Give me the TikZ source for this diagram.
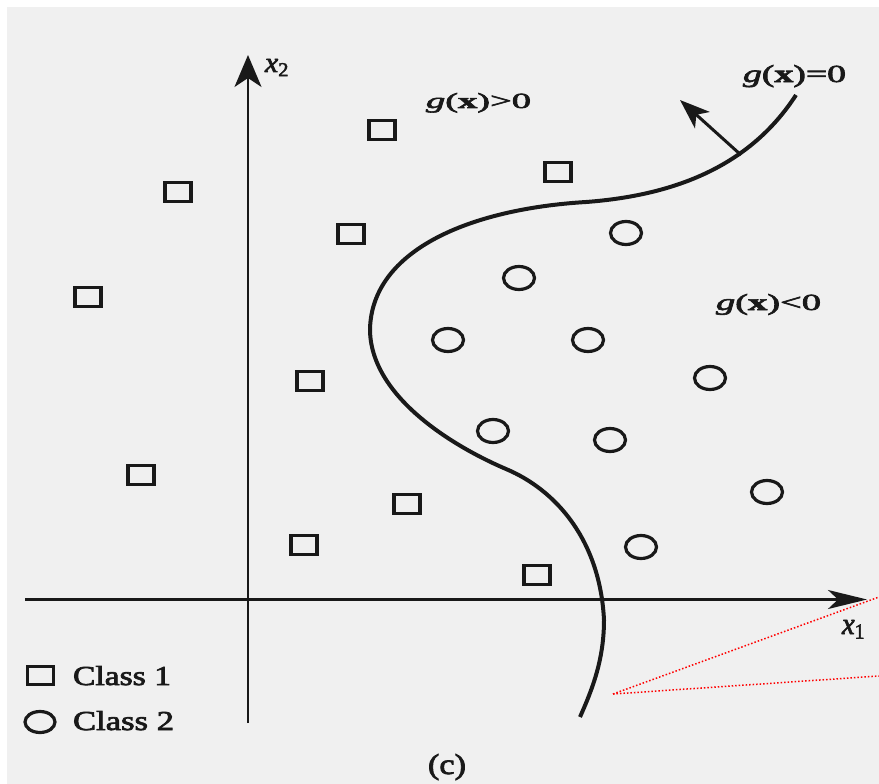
\documentclass[tikz,border=0pt]{standalone}
\usepackage{fontspec}
\setmainfont{Liberation Serif}
\newfontfamily\heavy{Liberation Serif}[FakeBold=2.5]
\usepackage{graphicx}
\usetikzlibrary{arrows.meta,shapes.geometric}
\definecolor{paper}{RGB}{240,240,240}
\definecolor{ink}{RGB}{25,25,25}
\newcommand{\fitbox}[3]{\resizebox{#1pt}{#2pt}{#3}}
\tikzset{
  sq/.style={draw=ink, line width=3.2pt, rectangle, minimum width=26pt, minimum height=19pt, inner sep=0pt},
  cl/.style={draw=ink, line width=3.2pt, ellipse, minimum width=31pt, minimum height=23pt, inner sep=0pt},
  lbl/.style={anchor=base west, inner sep=0pt, outer sep=0pt, text=ink, font=\heavy},
  axisline/.style={draw=ink, line width=2.5pt},
  boundary/.style={draw=ink, line width=4pt},
  reddots/.style={draw=red, line width=1.5pt, dash pattern=on 1.5pt off 2pt}
}
\begin{document}
\begin{tikzpicture}[x=1pt,y=-1pt]
\useasboundingbox (0,0) rectangle (879,784);
\fill[white] (0,0) rectangle (879,784);
\fill[paper] (7,7) rectangle (879,784);

% axes
\coordinate (yb) at (248,723);
\coordinate (yt) at (248,55);
\coordinate (xl) at (25,599.5);
\coordinate (xr) at (867,599.5);
\draw[axisline, -{Stealth[length=32pt,width=27pt,inset=9pt]}] (yb) -- (yt);
\draw[axisline, -{Stealth[length=39pt,width=19pt,inset=10pt]}] (xl) -- (xr);

% decision boundary
\draw[boundary] (796,95) .. controls (752,163) and (680,195) .. (586,202)
  .. controls (470,209) and (372,250) .. (370,329)
  .. controls (370,395) and (450,445) .. (506,469)
  .. controls (556,490) and (600,540) .. (604,620)
  .. controls (604,660) and (592,690) .. (580,717);

% normal arrow
\coordinate (nb) at (741,155);
\coordinate (nt) at (680,100);
\draw[draw=ink, line width=3pt, -{Stealth[length=30pt,width=22pt,inset=8pt]}] (nb) -- (nt);

% class 1 squares
\node[sq] (s1) at (178,192) {};
\node[sq] (s2) at (382,130) {};
\node[sq] (s3) at (558,172) {};
\node[sq] (s4) at (351,234) {};
\node[sq] (s5) at (88,297) {};
\node[sq] (s6) at (310,381) {};
\node[sq] (s7) at (141,475) {};
\node[sq] (s8) at (407,504) {};
\node[sq] (s9) at (304,545) {};
\node[sq] (s10) at (537,575) {};

% class 2 circles
\node[cl] (c1) at (626,233) {};
\node[cl] (c2) at (519,278) {};
\node[cl] (c3) at (448,340) {};
\node[cl] (c4) at (588,340) {};
\node[cl] (c5) at (710,378) {};
\node[cl] (c6) at (493,431) {};
\node[cl] (c7) at (610,440) {};
\node[cl] (c8) at (767,492) {};
\node[cl] (c9) at (641,547) {};

% legend
\node[sq, minimum width=26pt, minimum height=18pt] (ls) at (40.5,675.5) {};
\node[cl, minimum width=30pt, minimum height=21pt] (lc) at (40,722) {};
\node[lbl] (t1) at (73,685) {\fitbox{98}{19}{Class 1}};
\node[lbl] (t2) at (73,730) {\fitbox{101}{19}{Class 2}};

% labels
\node[lbl] (x2) at (265,72) {\fitbox{25}{13}{\textit{x}\textsubscript{2}}};
\node[lbl] (x1) at (842,634) {\fitbox{24}{14}{\textit{x}\textsubscript{1}}};
\node[lbl] (gp) at (426,108) {\fitbox{105}{15}{\textit{g}(\textbf{x})>0}};
\node[lbl] (g0) at (743,82) {\fitbox{103}{17}{\textit{g}(\textbf{x})=0}};
\node[lbl] (gn) at (716,310) {\fitbox{105}{16}{\textit{g}(\textbf{x})<0}};
\node[lbl] (cap) at (428,774) {\fitbox{38}{20}{(c)}};

% red dotted lines
\coordinate (ro) at (613,694);
\coordinate (r1) at (879,597);
\coordinate (r2) at (879,676);
\draw[reddots] (ro) -- (r1);
\draw[reddots] (ro) -- (r2);
\end{tikzpicture}
\end{document}
